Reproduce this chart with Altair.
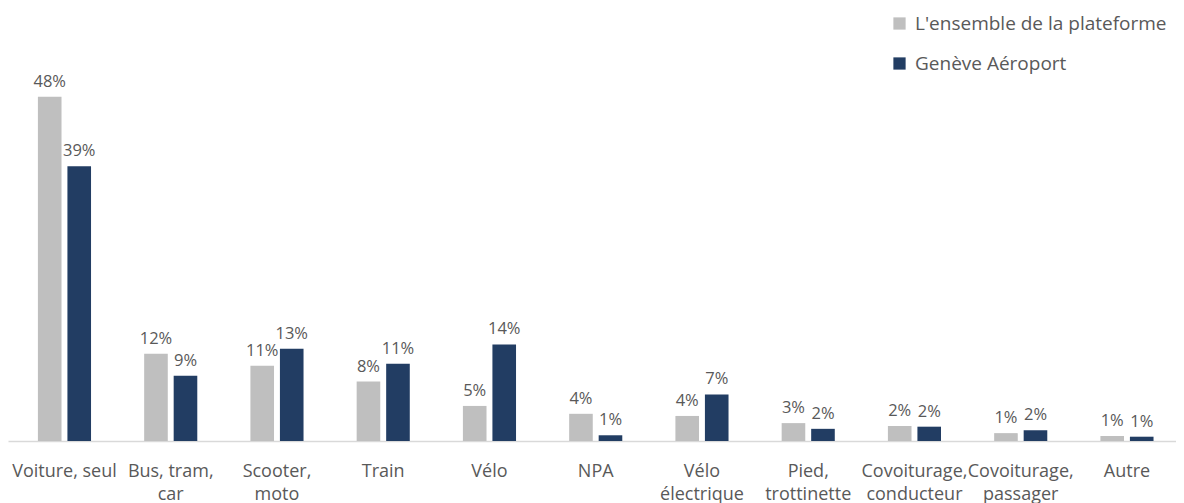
import altair as alt
import pandas as pd

categories = ["Voiture, seul", "Bus, tram,|car", "Scooter,|moto", "Train", "Vélo", "NPA",
              "Vélo|électrique", "Pied,|trottinette", "Covoiturage,|conducteur",
              "Covoiturage,|passager", "Autre"]
series = ["L'ensemble de la plateforme", "Genève Aéroport"]
plateforme = [48.1, 12.2, 10.5, 8.3, 4.9, 3.8, 3.5, 2.5, 2.1, 1.1, 0.7]
aeroport = [38.4, 9.1, 12.9, 10.8, 13.5, 0.8, 6.5, 1.7, 2.0, 1.5, 0.6]
labels_plateforme = ["48%", "12%", "11%", "8%", "5%", "4%", "4%", "3%", "2%", "1%", "1%"]
labels_aeroport = ["39%", "9%", "13%", "11%", "14%", "1%", "7%", "2%", "2%", "2%", "1%"]

rows = []
for i, c in enumerate(categories):
    rows.append({"cat": c, "serie": series[0], "val": plateforme[i], "lab": labels_plateforme[i]})
    rows.append({"cat": c, "serie": series[1], "val": aeroport[i], "lab": labels_aeroport[i]})
df = pd.DataFrame(rows)

FONT = "Open Sans"
TXT = "#595959"

x = alt.X("cat:N", sort=categories, title=None,
          scale=alt.Scale(paddingInner=0.5, paddingOuter=0.2465, align=0.571),
          axis=alt.Axis(labelExpr="split(datum.label, '|')", labelAngle=0,
                        labelFontSize=18, labelColor=TXT, labelFont=FONT,
                        labelPadding=21, labelLineHeight=23, labelOverlap=False,
                        labelLimit=0,
                        ticks=False, domainColor="#d9d9d9", domainWidth=1.5))
xo = alt.XOffset("serie:N", sort=series, scale=alt.Scale(paddingInner=0.2))
y = alt.Y("val:Q", scale=alt.Scale(domain=[0, 60.5], nice=False), axis=None)

bars = alt.Chart(df).mark_bar().encode(
    x=x, xOffset=xo, y=y,
    color=alt.Color("serie:N", sort=series,
                    scale=alt.Scale(domain=series, range=["#bfbfbf", "#223d63"]),
                    legend=alt.Legend(title=None, orient="none", legendX=882, legendY=6,
                                      symbolType="square", symbolSize=150,
                                      symbolStrokeWidth=0, labelLimit=0,
                                      labelFontSize=19, labelColor=TXT, labelFont=FONT,
                                      rowPadding=20, labelOffset=6, padding=0))
)

text = alt.Chart(df).mark_text(baseline="bottom", dy=-7, fontSize=16.5, color=TXT, font=FONT).encode(
    x=x, xOffset=xo, y=y, text="lab:N"
)

chart = (bars + text).properties(
    width=1168, height=433,
    padding={"left": 0, "top": 0, "right": 0, "bottom": 0}
).configure_view(stroke=None)

chart.save("out.html", embed_options={"renderer": "svg", "actions": False})
